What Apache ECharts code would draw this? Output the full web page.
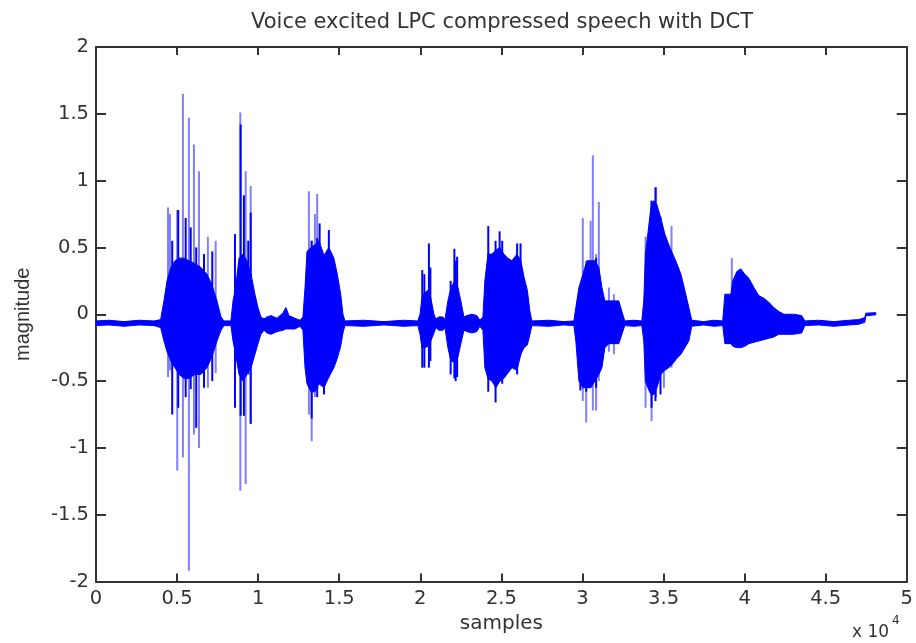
<!DOCTYPE html>
<html><head><meta charset="utf-8">
<script src="https://cdn.jsdelivr.net/npm/echarts/dist/echarts.min.js"></script>
<style>html,body{margin:0;padding:0;background:#fff}#chart{width:916px;height:643px}</style>
</head><body><div id="chart"></div>
<script>
// ---- text ----
const chartTitle = 'Voice excited LPC compressed speech with DCT';
const xAxisName = 'samples';
const yAxisName = 'magnitude';
const xExponentBase = 'x 10';
const xExponent = '4';
const xTickLabels = ['0','0.5','1','1.5','2','2.5','3','3.5','4','4.5','5'];
const yTickLabels = ['-2','-1.5','-1','-0.5','0','0.5','1','1.5','2'];

// ---- dense waveform body: sample index, upper and lower extent ----
const envSample = [0,800,1730,2650,3580,
 3990,4070,4190,4380,4620,4870,5120,5430,5730,6100,6470,6840,7150,7460,7710,7890,
 8320,8450,8610,8820,9060,9310,9560,9800,9990,10170,10360,
 10540,10790,11160,11530,11710,11900,12270,12580,
 12760,12890,13010,13260,13500,13750,14060,14360,14670,14880,15090,15230,15350,
 16520,17760,18990,19850,
 19980,20100,20280,20470,20650,20840,20960,21150,21390,21520,
 21700,21890,22130,22320,22500,22690,22870,23180,23490,23670,
 23860,23980,24170,24410,24660,24910,25150,25400,25650,25960,26200,26390,26600,26760,26880,
 27930,28850,29470,
 29590,29780,30030,30270,30520,30770,31010,31200,31380,31630,31940,32240,32430,32610,
 33170,33660,
 33780,33880,34030,34220,34400,34590,34830,35080,35320,35570,35820,36070,36310,36560,36740,
 37480,38100,38650,
 38780,39150,39270,39520,39760,40010,40260,40570,40870,41180,41490,41800,42110,42420,43030,43520,43710,
 44570,45500,46420,47040,47410,47470,48090];
const envUpper = [-0.05,-0.045,-0.055,-0.045,-0.05,
 -0.04,0.02,0.10,0.25,0.35,0.40,0.42,0.42,0.40,0.38,0.35,0.30,0.22,0.10,-0.02,-0.05,
 -0.05,0.10,0.20,0.42,0.45,0.40,0.30,0.15,0.05,-0.02,-0.035,
 -0.02,-0.01,-0.03,0.01,0.05,-0.01,-0.03,-0.045,
 -0.02,0.20,0.47,0.50,0.52,0.55,0.44,0.50,0.42,0.30,0.15,0.00,-0.05,
 -0.045,-0.055,-0.045,-0.05,
 0.00,0.12,0.16,0.18,0.12,0.00,-0.035,-0.02,-0.02,-0.04,
 0.10,0.20,0.25,0.20,0.10,-0.02,-0.01,0.00,-0.01,-0.045,
 -0.02,0.25,0.45,0.45,0.48,0.50,0.45,0.42,0.40,0.45,0.40,0.28,0.18,0.02,-0.05,
 -0.045,-0.055,-0.05,
 0.05,0.20,0.30,0.40,0.40,0.40,0.35,0.20,0.10,0.10,0.10,0.10,0.02,-0.05,
 -0.045,-0.05,
 0.10,0.45,0.60,0.80,0.85,0.82,0.72,0.60,0.52,0.45,0.38,0.30,0.18,0.05,-0.045,
 -0.055,-0.045,-0.05,
 0.15,0.15,0.25,0.32,0.34,0.30,0.27,0.20,0.14,0.12,0.09,0.05,0.02,0.00,0.00,-0.01,-0.05,
 -0.045,-0.055,-0.045,-0.04,-0.025,0.008,0.012];
const envLower = [-0.085,-0.08,-0.09,-0.08,-0.085,
 -0.10,-0.14,-0.20,-0.28,-0.35,-0.40,-0.45,-0.48,-0.48,-0.45,-0.45,-0.40,-0.32,-0.20,-0.12,-0.085,
 -0.085,-0.20,-0.30,-0.45,-0.50,-0.45,-0.40,-0.30,-0.22,-0.15,-0.12,
 -0.14,-0.15,-0.13,-0.12,-0.11,-0.11,-0.11,-0.09,
 -0.12,-0.40,-0.52,-0.58,-0.58,-0.52,-0.55,-0.47,-0.40,-0.33,-0.24,-0.14,-0.085,
 -0.09,-0.08,-0.09,-0.085,
 -0.15,-0.25,-0.25,-0.24,-0.20,-0.14,-0.10,-0.12,-0.12,-0.10,
 -0.25,-0.35,-0.36,-0.32,-0.22,-0.12,-0.13,-0.14,-0.13,-0.09,
 -0.12,-0.40,-0.48,-0.50,-0.55,-0.50,-0.48,-0.44,-0.40,-0.42,-0.30,-0.25,-0.23,-0.15,-0.085,
 -0.09,-0.08,-0.085,
 -0.20,-0.50,-0.55,-0.55,-0.55,-0.50,-0.45,-0.40,-0.25,-0.22,-0.22,-0.22,-0.15,-0.085,
 -0.09,-0.085,
 -0.20,-0.50,-0.55,-0.60,-0.60,-0.55,-0.45,-0.42,-0.40,-0.37,-0.33,-0.30,-0.25,-0.20,-0.09,
 -0.08,-0.09,-0.085,
 -0.22,-0.22,-0.24,-0.25,-0.25,-0.24,-0.22,-0.21,-0.20,-0.19,-0.18,-0.17,-0.15,-0.15,-0.15,-0.14,-0.085,
 -0.08,-0.09,-0.08,-0.075,-0.06,-0.012,-0.004];

// ---- strong (dark) strokes reaching out of the body ----
const strokeSample = [4700,5070,5530,5840,6180,6660,7170,
 8570,8920,9120,9390,9540,
 13300,13640,13790,14060,14360,
 20120,20250,20530,20620,
 21870,22100,22180,22270,
 24190,24640,24890,25050,25970,26180,
 29870,30230,30840,
 34260,34500,34810];
const strokeTop = [0.55,0.78,0.72,0.65,0.50,0.45,0.47,
 0.60,1.42,0.89,0.55,0.76,
 0.55,0.57,0.68,0.44,0.63,
 0.33,0.30,0.53,0.35,
 0.25,0.49,0.40,0.43,
 0.66,0.55,0.62,0.55,0.53,0.53,
 0.20,0.37,0.42,
 0.85,0.95,0.73];
const strokeBottom = [-0.75,-0.70,-0.62,-0.56,-0.85,-0.55,-0.50,
 -0.70,-0.76,-0.76,-0.45,-0.82,
 -0.78,-0.62,-0.50,-0.60,-0.47,
 -0.40,-0.40,-0.40,-0.35,
 -0.45,-0.48,-0.50,-0.47,
 -0.58,-0.66,-0.50,-0.52,-0.45,-0.30,
 -0.57,-0.58,-0.55,
 -0.70,-0.65,-0.60];

// ---- thin excitation pulses (faint lines) ----
const pulseSample = [4440,4560,5010,5360,5730,6040,6350,6900,7380,
 8900,9230,9540,
 13130,13300,13500,13640,
 30020,30230,30500,30640,30840,31010,31630,31940,
 33890,34260,34540,35020,35490,
 39210];
const pulseTop = [0.80,0.75,0.78,1.65,1.47,1.27,1.07,0.58,0.55,
 1.51,1.07,0.96,
 0.92,0.55,0.75,0.90,
 0.72,0.40,0.70,1.19,0.45,0.84,0.20,0.15,
 0.58,0.85,0.95,0.60,0.66,
 0.42];
const pulseBottom = [-0.47,-0.42,-1.17,-1.07,-1.92,-0.90,-1.00,-0.55,-0.44,
 -1.32,-1.27,-0.82,
 -0.75,-0.95,-0.62,-0.55,
 -0.65,-0.81,-0.55,-0.72,-0.72,-0.50,-0.28,-0.30,
 -0.70,-0.80,-0.62,-0.55,-0.40,
 -0.22];

const BLUE = '#0000ff';
const INK = '#333333';

function renderBody(params, api) {
  if (params.dataIndex !== 0) return null;
  const pts = [];
  for (let i = 0; i < envSample.length; i++) pts.push(api.coord([envSample[i], envUpper[i]]));
  for (let i = envSample.length - 1; i >= 0; i--) pts.push(api.coord([envSample[i], envLower[i]]));
  return {type: 'polygon', shape: {points: pts}, style: {fill: BLUE, stroke: BLUE, lineWidth: 1}};
}
function spikeRenderer(color, width) {
  return function (params, api) {
    const a = api.coord([api.value(0), api.value(1)]);
    const b = api.coord([api.value(0), api.value(2)]);
    return {type: 'line', shape: {x1: a[0], y1: a[1], x2: b[0], y2: b[1]},
      style: {stroke: color, lineWidth: width}};
  };
}

const axisLine = {show: true, onZero: false, lineStyle: {color: INK, width: 2}};
const tickStyle = {color: INK, width: 2};
const labelFont = {color: INK, fontFamily: 'DejaVu Sans', fontSize: 19.5};

const chart = echarts.init(document.getElementById('chart'), null, {renderer: 'canvas'});
chart.setOption({
  animation: false,
  backgroundColor: '#ffffff',
  title: {
    text: chartTitle, left: 502, top: 12, textAlign: 'center', padding: 0,
    textStyle: {fontFamily: 'DejaVu Sans', fontSize: 21, fontWeight: 'normal', color: INK}
  },
  grid: {left: 96, right: 8, top: 47, bottom: 61.5, containLabel: false},
  xAxis: [
    {type: 'value', position: 'bottom', min: 0, max: 50000, interval: 5000,
     axisLine: axisLine, axisTick: {show: true, inside: true, length: 8, lineStyle: tickStyle},
     axisLabel: Object.assign({margin: 7, formatter: v => xTickLabels[Math.round(v / 5000)]}, labelFont),
     splitLine: {show: false},
     name: xAxisName, nameLocation: 'middle', nameGap: 32,
     nameTextStyle: {color: INK, fontFamily: 'DejaVu Sans', fontSize: 20}},
    {type: 'value', position: 'top', min: 0, max: 50000, interval: 5000,
     axisLine: axisLine, axisTick: {show: true, inside: true, length: 8, lineStyle: tickStyle},
     axisLabel: {show: false}, splitLine: {show: false}}
  ],
  yAxis: [
    {type: 'value', position: 'left', min: -2, max: 2, interval: 0.5,
     axisLine: axisLine, axisTick: {show: true, inside: true, length: 10, lineStyle: tickStyle},
     axisLabel: Object.assign({margin: 7, formatter: v => yTickLabels[Math.round((v + 2) / 0.5)]}, labelFont),
     splitLine: {show: false},
     name: yAxisName, nameLocation: 'middle', nameGap: 63,
     nameTextStyle: {color: INK, fontFamily: 'Liberation Sans', fontSize: 20}},
    {type: 'value', position: 'right', min: -2, max: 2, interval: 0.5,
     axisLine: axisLine, axisTick: {show: true, inside: true, length: 10, lineStyle: tickStyle},
     axisLabel: {show: false}, splitLine: {show: false}}
  ],
  graphic: [
    {type: 'text', left: 852, top: 624, style: {text: xExponentBase, fill: INK, font: '17px "DejaVu Sans"'}},
    {type: 'text', left: 892, top: 615, style: {text: xExponent, fill: INK, font: '12px "DejaVu Sans"'}}
  ],
  series: [
    {type: 'custom', name: 'pulses', xAxisIndex: 0, yAxisIndex: 0, z: 2,
     renderItem: spikeRenderer('rgba(0,0,255,0.5)', 2),
     encode: {x: 0, y: [1, 2]},
     data: pulseSample.map((s, i) => [s, pulseTop[i], pulseBottom[i]])},
    {type: 'custom', name: 'body', xAxisIndex: 0, yAxisIndex: 0, z: 3,
     renderItem: renderBody,
     encode: {x: 0, y: [1, 2]},
     data: envSample.map((s, i) => [s, envUpper[i], envLower[i]])},
    {type: 'custom', name: 'strokes', xAxisIndex: 0, yAxisIndex: 0, z: 4,
     renderItem: spikeRenderer(BLUE, 2),
     encode: {x: 0, y: [1, 2]},
     data: strokeSample.map((s, i) => [s, strokeTop[i], strokeBottom[i]])}
  ]
});
</script></body></html>
